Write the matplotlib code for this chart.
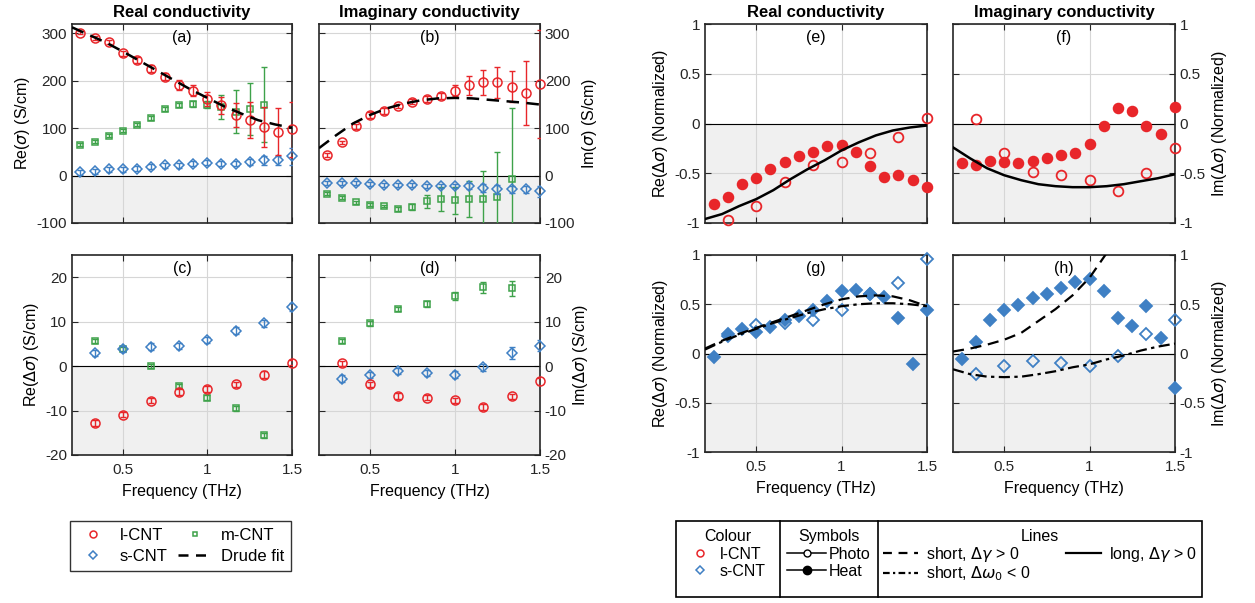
import matplotlib.pyplot as plt
from matplotlib.lines import Line2D
from matplotlib.patches import Rectangle

plt.rcParams['font.family'] = ['Liberation Sans', 'DejaVu Sans']
plt.rcParams['mathtext.fontset'] = 'dejavusans'
plt.rcParams['axes.unicode_minus'] = False
plt.rcParams['font.size'] = 11

RED = '#e8262a'
BLUE = '#3f80c4'
GREEN = '#3ea24a'

# frequency grids (THz)
freq16 = [0.25, 0.333, 0.417, 0.5, 0.583, 0.667, 0.75, 0.833, 0.917, 1.0,
          1.083, 1.167, 1.25, 1.333, 1.417, 1.5]
freq_m = freq16[:14]
freq8 = [0.333, 0.5, 0.667, 0.833, 1.0, 1.167, 1.333, 1.5]
fit_freq = [0.2, 0.3, 0.4, 0.5, 0.6, 0.7, 0.8, 0.9, 1.0, 1.1, 1.2, 1.3, 1.4, 1.5]

# (a) Re(sigma)
re_l = [302, 291, 282, 258, 244, 226, 209, 191, 179, 162, 148, 128, 118, 102, 93, 98]
re_l_err = [4, 4, 5, 5, 6, 7, 8, 10, 12, 15, 18, 25, 38, 42, 50, 58]
re_m = [65, 72, 84, 95, 107, 122, 140, 149, 151, 150, 145, 135, 140, 150]
re_m_err = [3, 3, 3, 3, 3, 4, 4, 5, 6, 8, 25, 45, 55, 80]
re_s = [7, 9, 13, 13, 15, 19, 22, 22, 25, 27, 25, 25, 29, 32, 32, 41]
re_s_err = [5, 5, 5, 5, 6, 5, 5, 5, 5, 5, 5, 5, 7, 10, 10, 18]
drude_re = [313, 297, 281, 262, 242, 222, 202, 182, 164, 146, 131, 117, 108, 101]

# (b) Im(sigma)
im_l = [44, 70, 104, 128, 137, 147, 156, 162, 168, 179, 191, 197, 197, 188, 174, 193]
im_l_err = [4, 4, 5, 6, 6, 5, 5, 6, 6, 12, 20, 26, 33, 33, 67, 114]
im_m = [-38, -47, -56, -61, -64, -70, -66, -54, -50, -52, -49, -50, -46, -8]
im_m_err = [3, 3, 3, 3, 3, 4, 6, 14, 25, 28, 38, 60, 95, 150]
im_s = [-15, -15, -15, -18, -19, -19, -20, -22, -22, -22, -22, -26, -29, -29, -29, -33]
im_s_err = [4, 4, 4, 4, 4, 4, 5, 5, 5, 5, 6, 8, 10, 8, 8, 12]
drude_im = [58, 85, 110, 128, 142, 152, 159, 163, 164, 163, 160, 157, 154, 150]

# (c) Re(delta sigma)
dre_l = [-12.8, -10.9, -7.8, -5.8, -5.2, -4.1, -1.9, 0.75]
dre_l_err = [0.6, 0.6, 0.6, 0.6, 0.7, 0.6, 0.7, 0.6]
dre_m = [5.6, 3.8, 0.0, -4.5, -7.1, -9.5, -15.6]
dre_m_err = [0.5, 0.5, 0.4, 0.5, 0.5, 0.5, 0.5]
dre_s = [2.9, 3.8, 4.4, 4.5, 5.9, 8.0, 9.6, 13.2]
dre_s_err = [0.7, 0.7, 0.7, 0.7, 0.7, 0.7, 0.7, 0.9]

# (d) Im(delta sigma)
dim_l = [0.6, -4.1, -6.7, -7.1, -7.7, -9.2, -6.8, -3.4]
dim_l_err = [0.6, 0.6, 0.6, 0.6, 0.6, 0.6, 0.6, 0.8]
dim_m = [5.6, 9.6, 12.8, 14.0, 15.8, 17.7, 17.5]
dim_m_err = [0.5, 0.5, 0.5, 0.6, 0.9, 1.2, 1.7]
dim_s = [-2.8, -2.0, -1.1, -1.5, -1.9, -0.3, 2.9, 4.6]
dim_s_err = [0.7, 0.7, 0.7, 0.7, 0.7, 0.7, 1.3, 1.2]

# (e)-(h) normalised changes
e_heat = [-0.81, -0.74, -0.61, -0.55, -0.46, -0.39, -0.33, -0.29, -0.23, -0.22,
          -0.29, -0.43, -0.54, -0.52, -0.57, -0.64]
e_photo = [-0.97, -0.83, -0.59, -0.42, -0.39, -0.30, -0.14, 0.06]
e_long = [-0.96, -0.91, -0.83, -0.76, -0.67, -0.56, -0.46, -0.37, -0.27, -0.19,
          -0.12, -0.07, -0.04, -0.02]

f_heat = [-0.40, -0.42, -0.38, -0.39, -0.40, -0.38, -0.35, -0.32, -0.30, -0.21,
          -0.03, 0.16, 0.13, -0.03, -0.11, 0.17]
f_photo = [0.05, -0.30, -0.49, -0.52, -0.57, -0.68, -0.50, -0.25]
f_long = [-0.24, -0.35, -0.45, -0.52, -0.57, -0.61, -0.63, -0.64, -0.64, -0.63,
          -0.61, -0.58, -0.55, -0.51]

g_heat = [-0.04, 0.20, 0.25, 0.22, 0.27, 0.34, 0.38, 0.44, 0.53, 0.63, 0.64,
          0.60, 0.57, 0.36, -0.11, 0.44]
g_photo = [0.18, 0.29, 0.31, 0.34, 0.44, 0.60, 0.72, 0.96]
g_short_dg = [0.05, 0.13, 0.20, 0.26, 0.32, 0.38, 0.44, 0.50, 0.55, 0.58, 0.59,
              0.58, 0.54, 0.48]
g_short_dw = [0.04, 0.12, 0.19, 0.25, 0.31, 0.36, 0.41, 0.45, 0.48, 0.50, 0.51,
              0.51, 0.50, 0.48]

h_heat = [-0.06, 0.12, 0.34, 0.44, 0.49, 0.56, 0.60, 0.66, 0.73, 0.76, 0.63,
          0.36, 0.28, 0.48, 0.16, -0.35]
h_photo = [-0.21, -0.13, -0.08, -0.10, -0.13, -0.03, 0.20, 0.34]
h_dg_freq = fit_freq[:10]
h_short_dg = [0.02, 0.05, 0.09, 0.14, 0.21, 0.33, 0.45, 0.59, 0.77, 1.02]
h_short_dw = [-0.16, -0.21, -0.235, -0.24, -0.235, -0.21, -0.18, -0.14, -0.11,
              -0.06, -0.02, 0.03, 0.07, 0.10]


def style(ax, ylim, yticks, right=False, xlabels=False, ylabel=None):
    ax.set_xlim(0.2, 1.5)
    ax.set_ylim(ylim)
    ax.axhspan(ylim[0], 0, color='#f0f0f0', zorder=0, lw=0)
    ax.axhline(0, color='black', lw=0.8, zorder=1)
    ax.set_axisbelow(True)
    ax.grid(True, color='#d6d6d6', lw=0.8)
    ax.set_xticks([0.5, 1.0, 1.5])
    ax.set_xticklabels(['0.5', '1', '1.5'])
    ax.set_yticks(yticks)
    ax.set_yticklabels([f'{t:g}' for t in yticks])
    ax.tick_params(direction='in', top=True, right=True, length=4, width=0.8,
                   labelleft=not right, labelright=right, labelbottom=xlabels,
                   labelsize=11, colors='#262626', labelcolor='#262626')
    ax.tick_params(axis='x', pad=6)
    for s in ax.spines.values():
        s.set_linewidth(1.2)
        s.set_color('#262626')
    if ylabel:
        if right:
            ax.yaxis.set_label_position('right')
        ax.set_ylabel(ylabel, fontsize=11.5, labelpad=3)
    if xlabels:
        ax.set_xlabel('Frequency (THz)', fontsize=11.5, labelpad=5)


def panel_tag(ax, tag):
    ax.text(0.5, 0.93, tag, transform=ax.transAxes, ha='center', va='center',
            fontsize=11.5)


def ebar(ax, x, y, err, color, marker, ms):
    # bars are clipped by the axes, markers on the edge are not
    ax.errorbar(x, y, yerr=err, fmt='none', ecolor=color, elinewidth=1.0,
                capsize=2.5, capthick=1.0, zorder=3)
    ax.plot(x, y, marker, mec=color, mfc='none', ms=ms, mew=1.1, zorder=3,
            clip_on=False)


def dots(ax, x, y, color, marker, ms, filled):
    ax.plot(x, y, marker, mec=color, mfc=color if filled else 'none', mew=1.3,
            ms=ms, zorder=3, clip_on=False)


fig = plt.figure(figsize=(12.55, 6.03), dpi=100)
W, H = 1255, 603


def add_ax(x0, x1, y0, y1):
    return fig.add_axes([x0 / W, 1 - y1 / H, (x1 - x0) / W, (y1 - y0) / H])


ax_a = add_ax(72, 292, 24, 223)
ax_b = add_ax(319, 540, 24, 223)
ax_c = add_ax(72, 292, 255, 455)
ax_d = add_ax(319, 540, 255, 455)
ax_e = add_ax(705, 927, 24, 223)
ax_f = add_ax(953, 1175, 24, 223)
ax_g = add_ax(705, 927, 255, 452)
ax_h = add_ax(953, 1175, 255, 452)

# (a)
style(ax_a, (-100, 320), [-100, 0, 100, 200, 300], ylabel=r'Re($\sigma$) (S/cm)')
ebar(ax_a, freq_m, re_m, re_m_err, GREEN, 's', 4)
ebar(ax_a, freq16, re_s, re_s_err, BLUE, 'D', 5)
ebar(ax_a, freq16, re_l, re_l_err, RED, 'o', 6.5)
ax_a.plot(fit_freq, drude_re, color='black', ls=(0, (5, 3)), lw=1.8, zorder=4)
panel_tag(ax_a, '(a)')
ax_a.set_title('Real conductivity', fontsize=12, fontweight='bold', pad=5)

# (b)
style(ax_b, (-100, 320), [-100, 0, 100, 200, 300], right=True,
      ylabel=r'Im($\sigma$) (S/cm)')
ebar(ax_b, freq_m, im_m, im_m_err, GREEN, 's', 4)
ebar(ax_b, freq16, im_s, im_s_err, BLUE, 'D', 5)
ebar(ax_b, freq16, im_l, im_l_err, RED, 'o', 6.5)
ax_b.plot(fit_freq, drude_im, color='black', ls=(0, (5, 3)), lw=1.8, zorder=4)
panel_tag(ax_b, '(b)')
ax_b.set_title('Imaginary conductivity', fontsize=12, fontweight='bold', pad=5)

# (c)
style(ax_c, (-20, 25), [-20, -10, 0, 10, 20], xlabels=True,
      ylabel=r'Re($\Delta\sigma$) (S/cm)')
ebar(ax_c, freq8[:7], dre_m, dre_m_err, GREEN, 's', 4)
ebar(ax_c, freq8, dre_s, dre_s_err, BLUE, 'D', 5)
ebar(ax_c, freq8, dre_l, dre_l_err, RED, 'o', 6.5)
panel_tag(ax_c, '(c)')

# (d)
style(ax_d, (-20, 25), [-20, -10, 0, 10, 20], right=True, xlabels=True,
      ylabel=r'Im($\Delta\sigma$) (S/cm)')
ebar(ax_d, freq8[:7], dim_m, dim_m_err, GREEN, 's', 4)
ebar(ax_d, freq8, dim_s, dim_s_err, BLUE, 'D', 5)
ebar(ax_d, freq8, dim_l, dim_l_err, RED, 'o', 6.5)
panel_tag(ax_d, '(d)')

norm_ticks = [-1, -0.5, 0, 0.5, 1]

# (e)
style(ax_e, (-1, 1), norm_ticks, ylabel=r'Re($\Delta\sigma$) (Normalized)')
dots(ax_e, freq16, e_heat, RED, 'o', 7, True)
dots(ax_e, freq8, e_photo, RED, 'o', 7, False)
ax_e.plot(fit_freq, e_long, color='black', lw=1.8, zorder=4)
panel_tag(ax_e, '(e)')
ax_e.set_title('Real conductivity', fontsize=12, fontweight='bold', pad=5)

# (f)
style(ax_f, (-1, 1), norm_ticks, right=True, ylabel=r'Im($\Delta\sigma$) (Normalized)')
dots(ax_f, freq16, f_heat, RED, 'o', 7, True)
dots(ax_f, freq8, f_photo, RED, 'o', 7, False)
ax_f.plot(fit_freq, f_long, color='black', lw=1.8, zorder=4)
panel_tag(ax_f, '(f)')
ax_f.set_title('Imaginary conductivity', fontsize=12, fontweight='bold', pad=5)

# (g)
style(ax_g, (-1, 1), norm_ticks, xlabels=True, ylabel=r'Re($\Delta\sigma$) (Normalized)')
dots(ax_g, freq16, g_heat, BLUE, 'D', 6.5, True)
dots(ax_g, freq8, g_photo, BLUE, 'D', 6.5, False)
ax_g.plot(fit_freq, g_short_dg, color='black', ls=(0, (5, 3)), lw=1.6, zorder=4)
ax_g.plot(fit_freq, g_short_dw, color='black', ls=(0, (5, 2, 1.5, 2)), lw=1.6, zorder=4)
panel_tag(ax_g, '(g)')

# (h)
style(ax_h, (-1, 1), norm_ticks, right=True, xlabels=True,
      ylabel=r'Im($\Delta\sigma$) (Normalized)')
dots(ax_h, freq16, h_heat, BLUE, 'D', 6.5, True)
dots(ax_h, freq8, h_photo, BLUE, 'D', 6.5, False)
ax_h.plot(h_dg_freq, h_short_dg, color='black', ls=(0, (5, 3)), lw=1.6, zorder=4)
ax_h.plot(fit_freq, h_short_dw, color='black', ls=(0, (5, 2, 1.5, 2)), lw=1.6, zorder=4)
panel_tag(ax_h, '(h)')

# left legend
left_handles = [
    Line2D([], [], ls='none', marker='o', mec=RED, mfc='none', ms=5, mew=1.1),
    Line2D([], [], ls='none', marker='D', mec=BLUE, mfc='none', ms=4.5, mew=1.1),
    Line2D([], [], ls='none', marker='s', mec=GREEN, mfc='none', ms=3.5, mew=1.1),
    Line2D([], [], color='black', ls=(0, (4, 3)), lw=1.8),
]
leg = fig.legend(left_handles, ['l-CNT', 's-CNT', 'm-CNT', 'Drude fit'], ncol=2,
                 loc='upper left', bbox_to_anchor=(70 / W, 1 - 521 / H),
                 borderaxespad=0, fontsize=12, frameon=True, fancybox=False,
                 edgecolor='black', handlelength=2.0, columnspacing=0.6,
                 handletextpad=0.6, borderpad=0.4, labelspacing=0.4)
leg.get_frame().set_linewidth(1.0)

# right legend (three boxed sections)
lax = add_ax(676, 1202, 521, 597)
lax.set_xlim(0, 1)
lax.set_ylim(0, 1)
lax.axis('off')
lax.add_patch(Rectangle((0, 0), 1, 1, fill=False, lw=1.2, ec='black',
                        transform=lax.transAxes, clip_on=False))
for xd in [(780 - 676) / 526, (878 - 676) / 526]:
    lax.plot([xd, xd], [0, 1], color='black', lw=1.2, clip_on=False)

colour_handles = [
    Line2D([], [], ls='none', marker='o', mec=RED, mfc='none', ms=5, mew=1.1),
    Line2D([], [], ls='none', marker='D', mec=BLUE, mfc='none', ms=4.5, mew=1.1),
]
l1 = lax.legend(colour_handles, ['l-CNT', 's-CNT'], title='Colour', loc='upper center',
                bbox_to_anchor=(0.099, 1.04), frameon=False, fontsize=11.5,
                title_fontsize=11.5, handlelength=1.2, handletextpad=0.6,
                labelspacing=0.15, borderpad=0.2)
lax.add_artist(l1)

symbol_handles = [
    Line2D([], [], color='black', lw=1.1, marker='o', mfc='white', mec='black', ms=5),
    Line2D([], [], color='black', lw=1.1, marker='o', mfc='black', mec='black', ms=6),
]
l2 = lax.legend(symbol_handles, ['Photo', 'Heat'], title='Symbols', loc='upper center',
                bbox_to_anchor=(0.291, 1.04), frameon=False, fontsize=11.5,
                title_fontsize=11.5, handlelength=2.4, handletextpad=0.2,
                labelspacing=0.15, borderpad=0.2)
lax.add_artist(l2)

line_handles = [
    Line2D([], [], color='black', ls=(0, (4, 3)), lw=1.6),
    Line2D([], [], color='black', ls=(0, (3, 1.5, 1, 1.5)), lw=1.6),
    Line2D([], [], color='black', lw=1.6),
]
lax.legend(line_handles, [r'short, $\Delta\gamma$ > 0', r'short, $\Delta\omega_0$ < 0',
                          r'long, $\Delta\gamma$ > 0'],
           ncol=2, title='Lines', loc='upper center', bbox_to_anchor=(0.692, 1.04),
           frameon=False, fontsize=11.5, title_fontsize=11.5, handlelength=2.2,
           handletextpad=0.5, labelspacing=0.05, columnspacing=2.2, borderpad=0.2)

fig.savefig('out.png', dpi=100)
